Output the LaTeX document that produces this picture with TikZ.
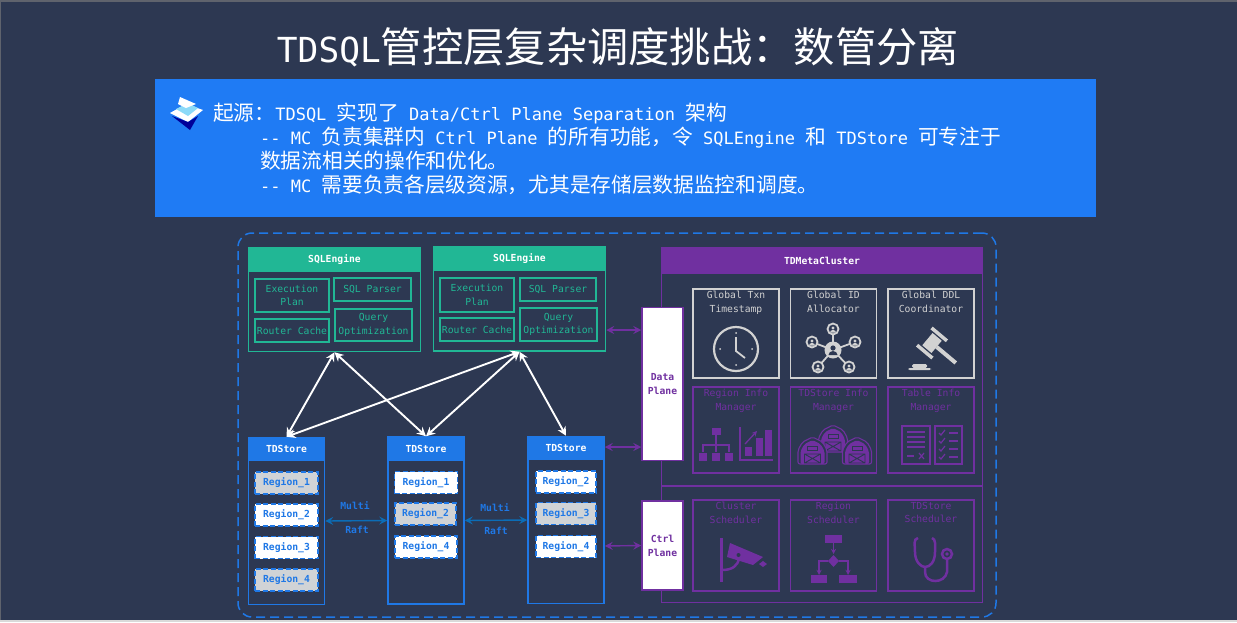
\documentclass[tikz,border=0pt]{standalone}
\usepackage{fontspec}
\setmainfont{DejaVu Sans Mono}
\newfontfamily\cjkFont{Noto Sans CJK SC}
\newcommand{\zh}[1]{{\cjkFont\fontsize{20.7}{24}\selectfont #1}}
\newcommand{\wideColon}{\char"FF1A\relax}
\newcommand{\wideComma}{\char"FF0C\relax}
\usetikzlibrary{positioning, arrows.meta}

\definecolor{slateBg}{HTML}{2D3852}
\definecolor{bannerBlue}{HTML}{1F7BF4}
\definecolor{frameBlue}{HTML}{1F78E6}
\definecolor{raftBlue}{HTML}{0B6DB7}
\definecolor{engineGreen}{HTML}{21B795}
\definecolor{metaPurple}{HTML}{7030A0}
\definecolor{metaGrey}{HTML}{D2D2D2}
\definecolor{regionGrey}{HTML}{D0D3D6}

\begin{document}
\begin{tikzpicture}[x=1pt,y=-1pt]
	\tikzstyle{tiny}=[font=\fontsize{9.7}{13.7}\selectfont, align=center, inner sep=0pt]
	\tikzstyle{bannerLine}=[anchor=base west, inner sep=0pt, text=white, font=\fontsize{17}{24}\selectfont]
	\tikzstyle{engineBox}=[draw=engineGreen, line width=1.5pt, minimum width=172pt, minimum height=104pt]
	\tikzstyle{engineHead}=[fill=engineGreen, text=white, tiny, font=\fontsize{9.7}{14}\selectfont\bfseries, minimum width=173pt, minimum height=25pt]
	\tikzstyle{enginePart}=[draw=engineGreen, line width=1.4pt, text=engineGreen, tiny]
	\tikzstyle{storeBox}=[draw=frameBlue, line width=1.5pt, minimum width=76pt, minimum height=167pt]
	\tikzstyle{storeHead}=[fill=frameBlue, text=white, tiny, font=\fontsize{9.7}{14}\selectfont\bfseries, minimum width=77pt, minimum height=24pt]
	\tikzstyle{regionWhite}=[draw=frameBlue, dash pattern=on 5pt off 2.5pt, line width=1.5pt, fill=white, text=frameBlue, tiny, font=\fontsize{9.7}{14}\selectfont\bfseries, minimum width=63pt, minimum height=22pt]
	\tikzstyle{regionShade}=[regionWhite, fill=regionGrey]
	\tikzstyle{raftText}=[text=frameBlue, tiny, font=\fontsize{9.7}{14}\selectfont\bfseries]
	\tikzstyle{planeBox}=[draw=metaPurple, line width=1.5pt, fill=white, text=metaPurple, tiny, font=\fontsize{9.7}{14}\selectfont\bfseries, minimum width=41pt]
	\tikzstyle{greyBox}=[draw=metaGrey, line width=1.4pt, minimum width=86pt, minimum height=89pt]
	\tikzstyle{purpleBox}=[draw=metaPurple, line width=1.4pt, minimum width=86pt]
	\tikzstyle{whiteArrow}=[{Stealth[length=9pt,width=9pt,inset=3pt]}-{Stealth[length=9pt,width=9pt,inset=3pt]}, white, line width=1.9pt]
	\tikzstyle{raftArrow}=[{Stealth[length=8pt,width=8pt,inset=3pt]}-{Stealth[length=8pt,width=8pt,inset=3pt]}, raftBlue, line width=1.4pt]
	\tikzstyle{planeArrow}=[{Stealth[length=8pt,width=8pt,inset=3pt]}-{Stealth[length=8pt,width=8pt,inset=3pt]}, metaPurple, line width=1.4pt]

	\useasboundingbox (0,0) rectangle (1237,622);
	\fill[slateBg] (0,0) rectangle (1237,622);
	\fill[gray!60!slateBg] (0,0) rectangle (1237,1.5);
	\fill[gray!60!slateBg] (0,0) rectangle (1.2,622);
	\fill[gray!30] (0,620.3) rectangle (1237,622);

	\node[text=white, inner sep=0pt, font=\fontsize{34.5}{40}\selectfont] (mainTitle) at (618,47) {TDSQL{\cjkFont\fontsize{41.3}{44}\selectfont 管控层复杂调度挑战\wideColon 数管分离}};

	% banner
	\node[fill=bannerBlue, minimum width=941pt, minimum height=138pt, inner sep=0pt] (banner) at (625.5,148) {};
	\fill[white] (170,113) -- (186,104) -- (203,110) -- (188,122) -- cycle;
	\fill[blue!60!black] (172,116) -- (188,122) -- (198,116) -- (190,130) -- cycle;
	\fill[cyan!45] (176,109) -- (188,103) -- (198,108) -- (188,116) -- cycle;
	\fill[white] (178,104) -- (180,97) -- (196,104) -- (186,108) -- cycle;
	\node[bannerLine] (lineOne) at (213,120) {\zh{起源\wideColon}TDSQL \zh{实现了} Data/Ctrl Plane Separation \zh{架构}};
	\node[bannerLine] (lineTwo) at (260,144) {-{}- MC \zh{负责集群内} Ctrl Plane \zh{的所有功能\wideComma 令} SQLEngine \zh{和} TDStore \zh{可专注于}};
	\node[bannerLine] (lineThree) at (260,168) {\zh{数据流相关的操作和优化。}};
	\node[bannerLine] (lineFour) at (260,192) {-{}- MC \zh{需要负责各层级资源\wideComma 尤其是存储层数据监控和调度。}};

	% dashed frame
	\node[draw=frameBlue, dash pattern=on 9pt off 5pt, line width=1.5pt, rounded corners=14pt, minimum width=758pt, minimum height=384pt] (outerFrame) at (617,425) {};

	% sql engines
	\node[engineBox] (sqlEngineA) at (334.5,299.5) {};
	\node[engineHead] (sqlHeadA) at (334.5,259.5) {SQLEngine};
	\node[enginePart, minimum width=74pt, minimum height=33pt] (planA) at (292,295.5) {Execution\\Plan};
	\node[enginePart, minimum width=77pt, minimum height=23pt] (parserA) at (372.5,289.5) {SQL Parser};
	\node[enginePart, minimum width=74pt, minimum height=23pt] (cacheA) at (292,330.5) {Router Cache};
	\node[enginePart, minimum width=77pt, minimum height=32pt] (queryA) at (373.5,325) {Query\\Optimization};

	\node[engineBox] (sqlEngineB) at (519.5,299) {};
	\node[engineHead] (sqlHeadB) at (519.5,258.5) {SQLEngine};
	\node[enginePart, minimum width=74pt, minimum height=34pt] (planB) at (477,295) {Execution\\Plan};
	\node[enginePart, minimum width=76pt, minimum height=23pt] (parserB) at (558,289.5) {SQL Parser};
	\node[enginePart, minimum width=74pt, minimum height=23pt] (cacheB) at (477,329.5) {Router Cache};
	\node[enginePart, minimum width=77pt, minimum height=33pt] (queryB) at (558.5,324.5) {Query\\Optimization};

	% stores
	\foreach \storeName/\cx/\cy in {A/286.5/521, B/426/520.5, C/566/520}
	{
		\node[storeBox] (tdStore\storeName) at (\cx,\cy) {};
		\node[storeHead] (storeHead\storeName) at (\cx,\cy-72) {TDStore};
	}
	\node[regionShade] (regionA1) at (286.5,483) {Region\_1};
	\node[regionWhite] (regionA2) at (286.5,515) {Region\_2};
	\node[regionWhite] (regionA3) at (286.5,547.5) {Region\_3};
	\node[regionShade] (regionA4) at (286.5,580) {Region\_4};
	\node[regionWhite] (regionB1) at (426,482.5) {Region\_1};
	\node[regionShade, minimum width=61pt] (regionB2) at (425.5,514) {Region\_2};
	\node[regionWhite, minimum width=62pt] (regionB4) at (426,547) {Region\_4};
	\node[regionWhite, minimum width=60pt] (regionC2) at (566,482) {Region\_2};
	\node[regionShade, minimum width=60pt] (regionC3) at (566,513.5) {Region\_3};
	\node[regionWhite, minimum width=60pt] (regionC4) at (566,546.5) {Region\_4};

	\draw[whiteArrow] (sqlEngineA.south) -- (tdStoreA.north);
	\draw[whiteArrow] (sqlEngineA.south) -- (tdStoreB.north);
	\draw[whiteArrow] (sqlEngineB.south) -- (tdStoreA.north);
	\draw[whiteArrow] (sqlEngineB.south) -- (tdStoreB.north);
	\draw[whiteArrow] (sqlEngineB.south) -- (tdStoreC.north);

	\draw[raftArrow] (tdStoreA.east) -- (tdStoreB.west);
	\draw[raftArrow] (tdStoreB.east) -- (tdStoreC.west);
	\node[raftText] (multiA) at (355,506) {Multi};
	\node[raftText] (raftA) at (357,530) {Raft};
	\node[raftText] (multiB) at (495,508) {Multi};
	\node[raftText] (raftB) at (496,531) {Raft};

	% meta cluster
	\node[draw=metaPurple, line width=1.5pt, minimum width=321pt, minimum height=355pt] (metaCluster) at (822,425) {};
	\node[fill=metaPurple, text=white, tiny, font=\fontsize{9.7}{14}\selectfont\bfseries, minimum width=322pt, minimum height=27pt] (metaHead) at (822,260.5) {TDMetaCluster};
	\coordinate (splitLeft) at (661,486);
	\draw[metaPurple, line width=1.5pt] (splitLeft) -- (splitLeft -| metaCluster.east);

	\foreach \boxName/\cx/\boxText in {timestamp/736/{Global Txn\\Timestamp}, allocator/833.5/{Global ID\\Allocator}, coordinator/931/{Global DDL\\Coordinator}}
	{
		\node[greyBox] (\boxName) at (\cx,333.5) {};
		\node[tiny, text=metaGrey, below=2.5pt of \boxName.north] (\boxName Label) {\boxText};
	}
	\foreach \boxName/\cx/\boxText in {regionInfo/736/{Region Info\\Manager}, storeInfo/833.5/{TDStore Info\\Manager}, tableInfo/931/{Table Info\\Manager}}
	{
		\node[purpleBox, minimum height=86pt] (\boxName) at (\cx,430) {};
		\node[tiny, text=metaPurple, below=2.5pt of \boxName.north] (\boxName Label) {\boxText};
	}
	\foreach \boxName/\cx/\boxText in {clusterSched/736/{Cluster\\Scheduler}, regionSched/833.5/{Region\\Scheduler}, storeSched/931/{TDStore\\Scheduler}}
	{
		\node[purpleBox, minimum height=91pt] (\boxName) at (\cx,545.5) {};
		\node[tiny, text=metaPurple, below=2.5pt of \boxName.north] (\boxName Label) {\boxText};
	}

	% clock
	\draw[metaGrey, line width=2.2pt] (736,349) circle (22pt);
	\draw[metaGrey, line width=1.8pt] (736,337) -- (736,351) -- (745,358);
	\foreach \dx/\dy in {0/-16, 16/0, 0/16, -16/0}
		\fill[metaGrey] (736+\dx,349+\dy) circle (1pt);

	% network
	\foreach \dx/\dy in {0/-21, -21/-8, 22/-8, -15/17, 16/17}
	{
		\draw[metaGrey, line width=1.8pt] (833,350) -- (833+\dx,350+\dy);
		\draw[metaGrey, fill=slateBg, line width=1.8pt] (833+\dx,350+\dy) circle (5.5pt);
		\fill[metaGrey] (833+\dx,349+\dy) circle (1.7pt);
		\fill[metaGrey] (833+\dx-3,353.5+\dy) arc (180:360:3pt and -2.6pt) -- cycle;
	}
	\fill[metaGrey] (833,350) circle (8.5pt);
	\fill[slateBg] (833,348) circle (2.6pt);
	\fill[slateBg] (828.5,355) arc (180:360:4.5pt and -4pt) -- cycle;

	% gavel
	\begin{scope}[shift={(932,343)},rotate=-40]
		\fill[metaGrey] (6,-2) rectangle (31,2);
		\fill[metaGrey] (-6,-8) rectangle (6,8);
		\fill[metaGrey] (-10,-13) rectangle (10,-9.5);
		\fill[metaGrey] (-10,9.5) rectangle (10,13);
	\end{scope}
	\fill[metaGrey, rounded corners=1.5pt] (908,368) rectangle (931,370);
	\fill[metaGrey, rounded corners=1.5pt] (912,364) rectangle (927,368);

	% org chart and bars
	\fill[metaPurple] (711.5,428) rectangle (720.5,435);
	\draw[metaPurple, line width=1.3pt] (716,435) -- (716,452);
	\draw[metaPurple, line width=1.3pt] (703,452) -- (703,445) -- (729,445) -- (729,452);
	\foreach \cx in {703,716,729}
		\fill[metaPurple] (\cx-4,452.5) rectangle (\cx+4,460.5);
	\draw[metaPurple, line width=1.6pt] (740,427) -- (740,460) -- (773,460);
	\fill[metaPurple] (745,447) rectangle (752,456);
	\fill[metaPurple] (756,438) rectangle (763,456);
	\fill[metaPurple] (765,430) rectangle (772,456);
	\draw[metaPurple, line width=1.3pt, ->, >=stealth] (745,444) -- (757,431);

	% barns
	\foreach \cx/\cy in {833/439, 812.5/451, 857/451}
	{
		\begin{scope}[shift={(\cx,\cy)}]
			\draw[metaPurple, fill=slateBg, line width=1.1pt, rounded corners=2pt] (-14.5,13) -- (-14.5,-1) -- (-10,-9) -- (0,-14) -- (10,-9) -- (14.5,-1) -- (14.5,13) -- cycle;
			\fill[metaPurple, rounded corners=2pt] (-12,13) -- (-12,0) -- (-8,-7) -- (0,-11) -- (8,-7) -- (12,0) -- (12,13) -- cycle;
			\draw[slateBg, line width=0.9pt] (-5,-5) rectangle (5,-0.5);
			\draw[slateBg, line width=0.9pt] (-8,3) rectangle (8,12) (-8,3) -- (8,12) (-8,12) -- (8,3);
		\end{scope}
	}

	% table lists
	\draw[metaPurple, line width=2.2pt] (902,426) rectangle (930,464);
	\draw[metaPurple, line width=2.2pt] (935,426) rectangle (962,464);
	\foreach \dy in {432,437,442,447}
		\draw[metaPurple, line width=1.2pt] (907,\dy) -- (925,\dy);
	\draw[metaPurple, line width=1.2pt] (907,456) -- (914,456);
	\draw[metaPurple, line width=1.2pt] (919,453) -- (924,459) (924,453) -- (919,459);
	\foreach \dy in {433,441,449,457}
	{
		\draw[metaPurple, line width=1.2pt] (939,\dy) -- (941,\dy+2) -- (945,\dy-3);
		\draw[metaPurple, line width=1.2pt] (949,\dy) -- (958,\dy);
	}

	% camera
	\fill[metaPurple] (719.5,538) rectangle (723,582);
	\draw[metaPurple, line width=2.5pt] (722,570) .. controls (732,570) and (738,566) .. (739,558);
	\fill[metaPurple] (730,543) -- (763,557) -- (753,565) -- (727,557) -- cycle;
	\fill[metaPurple] (759,564) -- (763,561) -- (767,564) -- (763,567) -- cycle;
	\fill[slateBg] (738.5,555) circle (2pt);

	% flow chart
	\fill[metaPurple] (825,535) rectangle (842,543);
	\draw[metaPurple, line width=1.3pt, ->, >=stealth] (833.5,543) -- (833.5,554);
	\fill[metaPurple] (833.5,555) -- (839,561) -- (833.5,567) -- (828,561) -- cycle;
	\draw[metaPurple, line width=1.3pt, ->, >=stealth] (828,561) -- (819,561) -- (819,575);
	\draw[metaPurple, line width=1.3pt, ->, >=stealth] (839,561) -- (848,561) -- (848,575);
	\fill[metaPurple] (811,575) rectangle (827,583);
	\fill[metaPurple] (839,575) rectangle (857,583);

	% stethoscope
	\draw[metaPurple, line width=2.5pt] (918,538) .. controls (913,539) and (915,545) .. (915,552) .. controls (915,562) and (921,567) .. (925,567) .. controls (930,567) and (935,562) .. (935,552) .. controls (935,545) and (936,539) .. (932,538);
	\draw[metaPurple, line width=2.5pt] (925,567) -- (925,572) .. controls (925,584) and (945,584) .. (947,572) -- (947,560);
	\draw[metaPurple, line width=2.5pt] (947,554) circle (5pt);
	\fill[metaPurple] (947,554) circle (1.8pt);

	% planes
	\node[planeBox, minimum height=153pt] (dataPlane) at (662.5,384) {Data\\Plane};
	\node[planeBox, minimum height=89pt] (ctrlPlane) at (662.5,545.5) {Ctrl\\Plane};
	\draw[planeArrow] ([yshift=-31pt]sqlEngineB.east) -- ([yshift=54pt]dataPlane.west);
	\draw[planeArrow] ([yshift=73pt]tdStoreC.east) -- ([yshift=-63pt]dataPlane.west);
	\draw[planeArrow] ([yshift=-26pt]tdStoreC.east) -- (ctrlPlane.west);
\end{tikzpicture}
\end{document}
